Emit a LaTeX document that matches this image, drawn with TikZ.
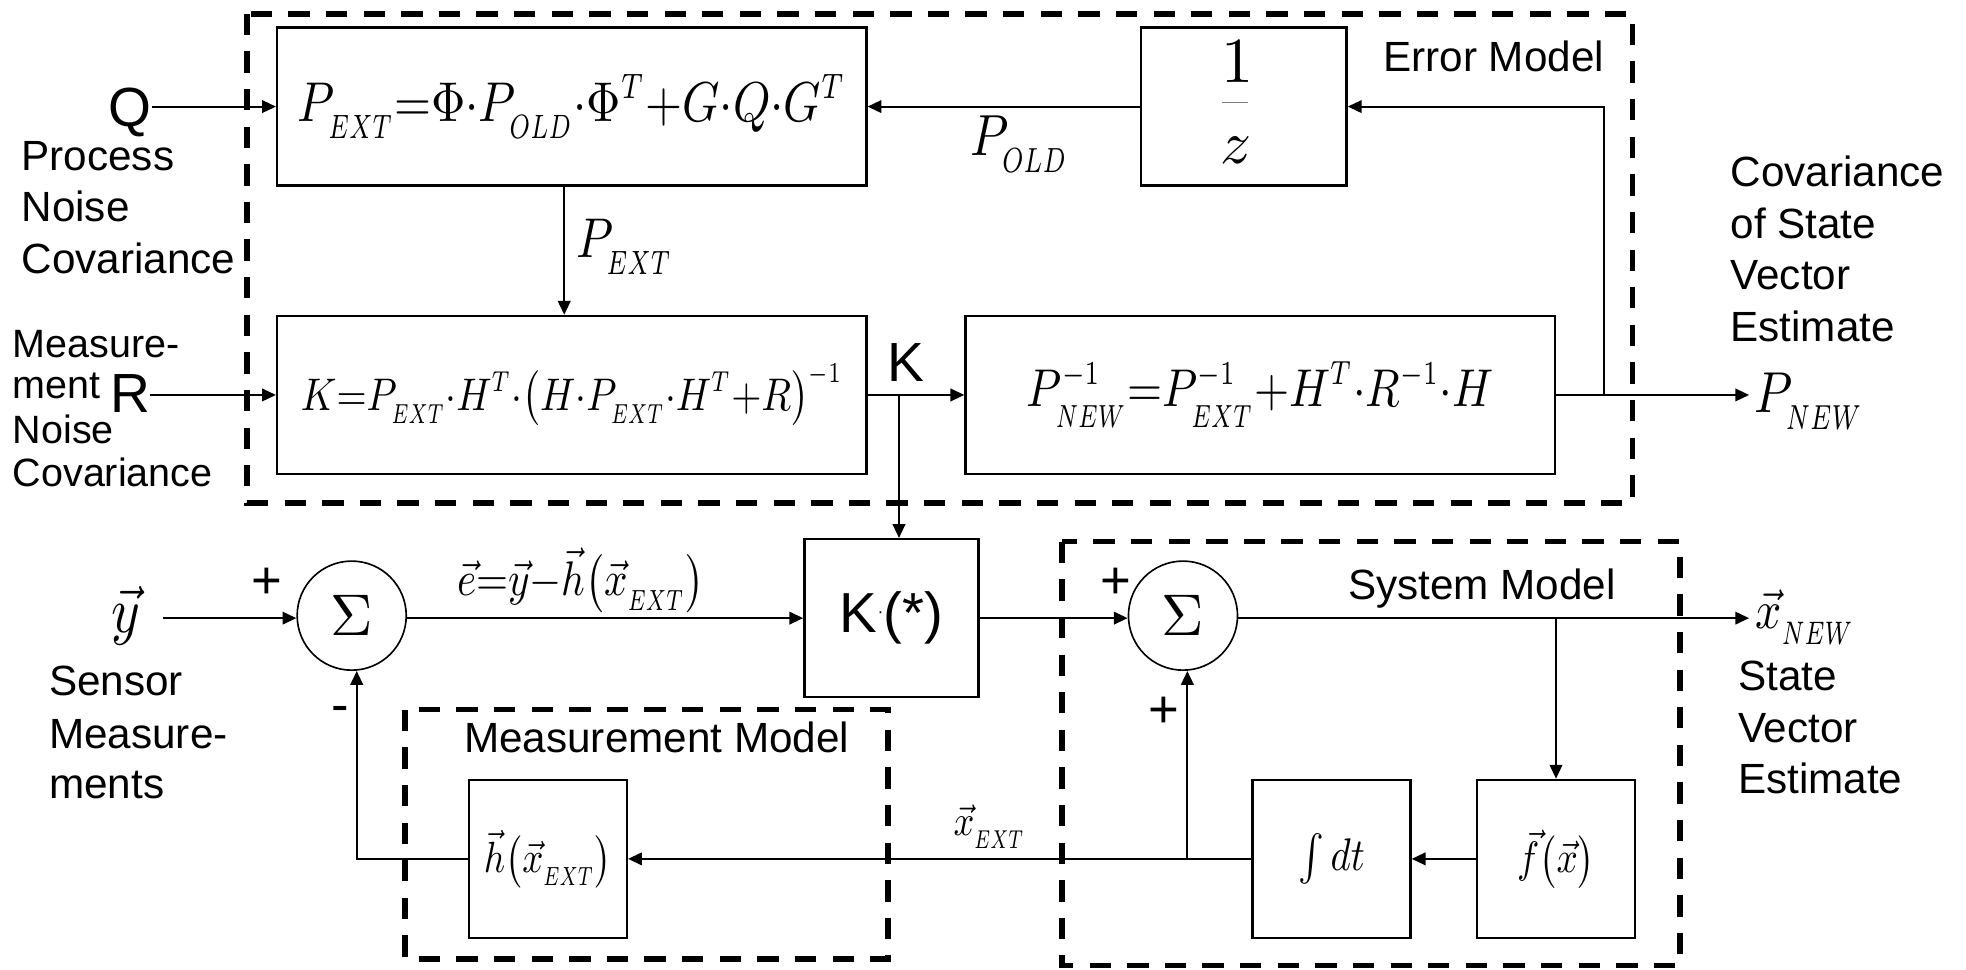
\documentclass[tikz,border=0pt]{standalone}
\usepackage[no-math]{fontspec}
\setmainfont{Liberation Sans}
\usepackage{graphicx}
\usetikzlibrary{arrows.meta,calc}
\newcommand{\fm}[2]{\resizebox{#1}{!}{\scalebox{1}[1.18]{$\displaystyle #2$}}}
\newcommand{\fsz}[1]{\fontsize{#1}{#1}\selectfont}
\newcommand{\cd}{{\cdot}}
\newcommand{\sbx}[1]{\raisebox{-1.5pt}{\scalebox{0.7}[0.86]{$\scriptstyle #1$}}}
\newcommand{\spx}[1]{\scalebox{0.8}[0.9]{$\scriptstyle #1$}}
\tikzset{
  blk/.style={draw, line width=1.9pt, inner sep=0pt, minimum width=126pt, minimum height=126pt},
  grp/.style={draw, line width=4.5pt, dash pattern=on 17pt off 13pt},
  conn/.style={line width=1.6pt},
  arr/.style={conn, -{Triangle[length=11pt,width=10pt]}},
  lbl/.style={font=\fsz{33.7}, inner sep=0pt},
  lbls/.style={font=\fsz{31.5}, inner sep=0pt},
  big/.style={font=\fsz{44}, inner sep=0pt},
  sgn/.style={font=\fsz{42}, inner sep=0pt},
  mth/.style={inner sep=0pt},
  sumn/.style={draw, circle, line width=1.3pt, minimum size=87pt, inner sep=0pt},
}
\begin{document}
\begin{tikzpicture}[x=1pt,y=-1pt]
\useasboundingbox (0,0) rectangle (1568,773);

% group frames
\draw[grp] (197,11) rectangle (1302,401);
\draw[grp] (323,566) rectangle (708,765);
\draw[grp] (847,432) rectangle (1340,770);

% error model blocks
\node[blk, minimum width=470pt] (b1) at (456,85) {\fm{437pt}{P_{\sbx{EXT}}{=}\Phi\cd P_{\sbx{OLD}}\cd \Phi^{\spx{T}}{+}G\cd Q\cd G^{\spx{T}}}};
\node[blk, minimum width=164pt] (bz) at (992,85) {};
\node[mth] (bzone) at (987,49) {\resizebox{!}{33pt}{$1$}};
\node[mth] (bzz) at (986,119.5) {\resizebox{!}{21pt}{$z$}};
\draw[gray, line width=1pt] (975,82) -- (995,82);
\node[blk, minimum width=470pt] (bK) at (456,315) {\fm{432pt}{K{=}P_{\sbx{EXT}}\cd H^{\spx{T}}\cd\bigl(H\cd P_{\sbx{EXT}}\cd H^{\spx{T}}{+}R\bigr)^{\spx{-1}}}};
\node[blk, minimum width=470pt] (bPN) at (1005,315) {\fm{372pt}{P_{\sbx{NEW}}^{\spx{-1}}{=}P_{\sbx{EXT}}^{\spx{-1}}{+}H^{\spx{T}}\cd R^{\spx{-1}}\cd H}};

% lower blocks
\node[sumn] (s1) at (280.5,491) {\resizebox{!}{32pt}{$\Sigma$}};
\node[sumn] (s2) at (943.5,491) {\resizebox{!}{32pt}{$\Sigma$}};
\node[blk, minimum width=139pt] (bKS) at (711,493) {\fsz{45}K\raisebox{12pt}{\fsz{14}·}(*)};
\node[blk] (bh) at (437,685) {\fm{102pt}{\vec{h}\bigl(\vec{x}_{\sbx{EXT}}\bigr)}};
\node[blk] (bi) at (1062,685) {\fm{53pt}{\textstyle\int dt}};
\node[blk] (bf) at (1241,685) {\fm{62pt}{\vec{f}\bigl(\vec{x}\bigr)}};

% texts
\node[lbl, anchor=base west] (tEM) at (1103,57) {Error Model};
\node[lbl, anchor=base west] (tSM) at (1075,478) {System Model};
\node[lbl, anchor=base west] (tMM) at (370,600) {Measurement Model};
\node[lbl, anchor=base west] (tP1) at (17,136) {Process};
\node[lbl, anchor=base west] (tP2) at (17,177) {Noise};
\node[lbl, anchor=base west] (tP3) at (17,218) {Covariance};
\node[lbls, anchor=base west] (tR1) at (10,285) {Measure-};
\node[lbls, anchor=base west] (tR2) at (10,318) {ment};
\node[lbls, anchor=base west] (tR3) at (10,354) {Noise};
\node[lbls, anchor=base west] (tR4) at (10,388) {Covariance};
\node[lbl, anchor=base west] (tC1) at (1380,149) {Covariance};
\node[lbl, anchor=base west] (tC2) at (1380,190) {of State};
\node[lbl, anchor=base west] (tC3) at (1380,231) {Vector};
\node[lbl, anchor=base west] (tC4) at (1380,272) {Estimate};
\node[lbl, anchor=base west] (tS1) at (1386,551) {State};
\node[lbl, anchor=base west] (tS2) at (1386,592) {Vector};
\node[lbl, anchor=base west] (tS3) at (1386,633) {Estimate};
\node[lbl, anchor=base west] (tY1) at (39,555) {Sensor};
\node[lbl, anchor=base west] (tY2) at (39,597) {Measure-};
\node[lbl, anchor=base west] (tY3) at (39,637) {ments};
\node[big, anchor=base east] (lQ) at (121,101) {Q};
\node[big, anchor=base east] (lR) at (120,329) {R};
\node[big, anchor=base west] (lK) at (708,304) {K};
\node[sgn] (pl1) at (213,465) {+};
\node[sgn] (pl2) at (890,465) {+};
\node[sgn] (pl3) at (928,568) {+};
\node[sgn] (mi1) at (271,570) {-};

% math labels
\node[mth] (lPEXT) at (498,197) {\fm{77pt}{P_{\sbx{EXT}}}};
\node[mth] (lPOLD) at (813,115) {\fm{78pt}{P_{\sbx{OLD}}}};
\node[mth, anchor=west] (lPNEW) at (1399,320) {\fm{87pt}{P_{\sbx{NEW}}}};
\node[mth] (le) at (463,463) {\fm{197pt}{\vec{e}{=}\vec{y}{-}\vec{h}\bigl(\vec{x}_{\sbx{EXT}}\bigr)}};
\node[mth] (ly) at (100,491) {\fm{23pt}{\vec{y}}};
\node[mth] (lxE) at (789,659) {\fm{57pt}{\vec{x}_{\sbx{EXT}}}};
\node[mth, anchor=west] (lxN) at (1400,492) {\fm{79pt}{\vec{x}_{\sbx{NEW}}}};

% junctions
\coordinate (jP) at (1279,315);
\coordinate (jK) at (717,315);
\coordinate (jX) at (1241,493);
\coordinate (jI) at (947,685);
\coordinate (yin) at (130,493);
\coordinate (pout) at (1395,315);
\coordinate (xout) at (1395,493);

% connectors: error model
\draw[arr] (lQ.east |- b1.west) -- (b1.west);
\draw[arr] (lR.east |- bK.west) -- (bK.west);
\draw[arr] ([xshift=-6pt]b1.south) -- ([xshift=-6pt]bK.north);
\draw[arr] (bK.east) -- (bPN.west);
\draw[arr] (jK) -- (jK |- bKS.north);
\draw[arr] (bPN.east) -- (pout);
\draw[arr] (jP) -- (jP |- bz.east) -- (bz.east);
\draw[arr] (bz.west) -- (b1.east);

% connectors: lower loop
\draw[arr] (yin) -- (yin -| s1.west);
\draw[arr] (s1.east |- yin) -- (bKS.west |- yin);
\draw[arr] (bKS.east |- yin) -- (s2.west |- yin);
\draw[arr] (s2.east |- xout) -- (xout);
\draw[arr] (jX) -- (bf.north);
\draw[arr] (bf.west) -- (bi.east);
\draw[arr] (bi.west) -- (bh.east);
\draw[arr] (jI) -- (jI |- s2.south);
\draw[arr] (bh.west) -- ([xshift=4pt]bh.west -| s1.south) -- ([xshift=4pt]s1.south);
\end{tikzpicture}
\end{document}
